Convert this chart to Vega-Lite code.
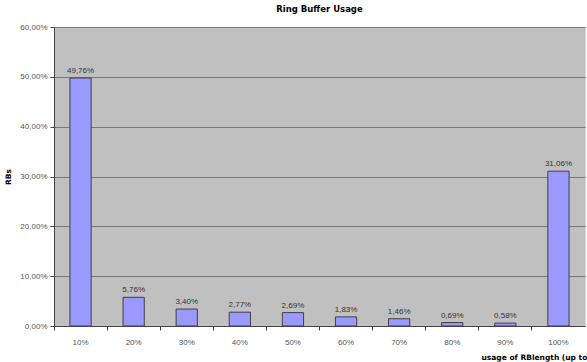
{
  "$schema": "https://vega.github.io/schema/vega-lite/v6.json",
  "width": 531,
  "height": 299,
  "autosize": {"type": "none"},
  "padding": {"left": 54, "top": 27, "right": 2, "bottom": 36},
  "background": "white",
  "title": {"text": "Ring Buffer Usage", "font": "DejaVu Sans", "fontSize": 8.5, "fontWeight": "bold", "color": "#000", "offset": 10, "anchor": "middle"},
  "data": {"values": [
    {"usage": "10%", "share": 0.4976},
    {"usage": "20%", "share": 0.0576},
    {"usage": "30%", "share": 0.034},
    {"usage": "40%", "share": 0.0277},
    {"usage": "50%", "share": 0.0269},
    {"usage": "60%", "share": 0.0183},
    {"usage": "70%", "share": 0.0146},
    {"usage": "80%", "share": 0.0069},
    {"usage": "90%", "share": 0.0058},
    {"usage": "100%", "share": 0.3106}
  ]},
  "encoding": {
    "x": {"field": "usage", "type": "nominal", "sort": null,
      "scale": {"paddingInner": 0, "paddingOuter": 0},
      "axis": {"labelFont": "Liberation Sans", "labelFontSize": 8, "labelColor": "#555", "labelPadding": 8, "labelAngle": 0,
        "ticks": true, "bandPosition": 0, "tickSize": 4, "tickColor": "#444", "domainColor": "#444",
        "title": "usage of RBlength (up to", "titleFont": "DejaVu Sans", "titleFontSize": 7.5, "titleFontWeight": "bold", "titleColor": "#000",
        "titleAnchor": "start", "titleAlign": "left", "titleX": 427, "titleY": 27}},
    "y": {"field": "share", "type": "quantitative",
      "scale": {"domain": [0, 0.6]},
      "axis": {"format": ".2%", "values": [0, 0.1, 0.2, 0.3, 0.4, 0.5, 0.6], "labelOverlap": false,
        "labelFont": "Liberation Sans", "labelFontSize": 8, "labelColor": "#555", "labelPadding": 3,
        "tickSize": 4, "tickColor": "#444", "domainColor": "#444",
        "grid": true, "gridColor": "#777", "gridWidth": 1,
        "title": "RBs", "titleFont": "DejaVu Sans", "titleFontSize": 7.5, "titleFontWeight": "bold", "titleColor": "#000", "titleX": -42}}
  },
  "layer": [
    {"mark": {"type": "bar", "width": {"band": 0.4}, "fill": "#9999ff", "stroke": "#404040", "strokeWidth": 1}},
    {"mark": {"type": "text", "dy": -7, "font": "Liberation Sans", "fontSize": 8, "color": "#333"},
     "encoding": {"text": {"field": "share", "type": "quantitative", "format": ".2%"}}}
  ],
  "config": {
    "locale": {"number": {"decimal": ",", "thousands": ".", "grouping": [3], "currency": ["", " €"]}},
    "view": {"fill": "#c0c0c0", "stroke": "#d8d8d8"}
  }
}
